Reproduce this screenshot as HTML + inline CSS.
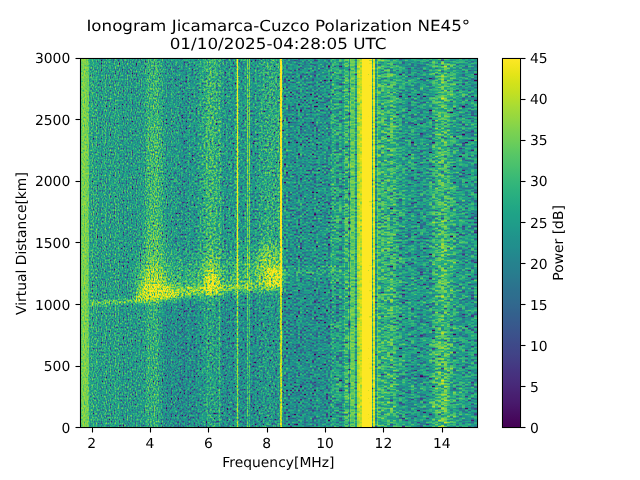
<!DOCTYPE html>
<html><head><meta charset="utf-8"><title>Ionogram</title>
<style>html,body{margin:0;padding:0;background:#fff;width:640px;height:480px;overflow:hidden}
svg{display:block} text{font-family:"DejaVu Sans","Liberation Sans",sans-serif;fill:#000;text-rendering:geometricPrecision}</style></head>
<body><svg width="640" height="480" viewBox="0 0 640 480">
<defs><filter id="f0" filterUnits="userSpaceOnUse" x="0" y="0" width="640" height="480" color-interpolation-filters="sRGB">
<feTurbulence type="fractalNoise" baseFrequency="0.77 0.52" numOctaves="1" seed="3" result="n"/>
<feColorMatrix in="n" type="matrix" values="1 0 0 0 0 1 0 0 0 0 1 0 0 0 0 0 0 0 0 1" result="ng0"/>
<feOffset in="ng0" dx="0" dy="0" result="ng"/>
<feComponentTransfer in="ng" result="ns"><feFuncR type="table" tableValues="0 0 0 0 0 0 0 0 0 0 0 0 0 0 0 0.069 0.146 0.224 0.292 0.351 0.398 0.44 0.476 0.506 0.534 0.559 0.583 0.605 0.627 0.65 0.672 0.692 0.709 0.729 0.746 0.763 0.779 0.792 0.805 0.816 0.828 0.839 0.851 0.863 0.875 0.889 0.903 0.918 0.931 0.944 0.956 0.97 0.983 0.999 1 1 1 1 1 1 1 1 1 1 1"/><feFuncG type="table" tableValues="0 0 0 0 0 0 0 0 0 0 0 0 0 0 0 0.069 0.146 0.224 0.292 0.351 0.398 0.44 0.476 0.506 0.534 0.559 0.583 0.605 0.627 0.65 0.672 0.692 0.709 0.729 0.746 0.763 0.779 0.792 0.805 0.816 0.828 0.839 0.851 0.863 0.875 0.889 0.903 0.918 0.931 0.944 0.956 0.97 0.983 0.999 1 1 1 1 1 1 1 1 1 1 1"/><feFuncB type="table" tableValues="0 0 0 0 0 0 0 0 0 0 0 0 0 0 0 0.069 0.146 0.224 0.292 0.351 0.398 0.44 0.476 0.506 0.534 0.559 0.583 0.605 0.627 0.65 0.672 0.692 0.709 0.729 0.746 0.763 0.779 0.792 0.805 0.816 0.828 0.839 0.851 0.863 0.875 0.889 0.903 0.918 0.931 0.944 0.956 0.97 0.983 0.999 1 1 1 1 1 1 1 1 1 1 1"/></feComponentTransfer>
<feColorMatrix in="SourceGraphic" type="matrix" values="0 1 0 0 0 0 1 0 0 0 0 1 0 0 0 0 0 0 0 1" result="amp"/>
<feComposite in="amp" in2="ns" operator="arithmetic" k1="1" k2="-0.75" k3="0" k4="0.75" result="np"/>
<feComposite in="SourceGraphic" in2="np" operator="arithmetic" k1="0" k2="1" k3="0.6667" k4="-0.5000" result="v"/>
<feColorMatrix in="v" type="matrix" values="1 0 0 0 0 1 0 0 0 0 1 0 0 0 0 0 0 0 0 1" result="vg"/>
<feComponentTransfer in="vg">
<feFuncR type="table" tableValues="0.267 0.274 0.28 0.283 0.283 0.281 0.277 0.272 0.264 0.254 0.245 0.234 0.222 0.212 0.201 0.191 0.181 0.173 0.164 0.155 0.148 0.139 0.131 0.125 0.121 0.12 0.123 0.135 0.154 0.176 0.208 0.246 0.289 0.328 0.378 0.431 0.478 0.536 0.596 0.647 0.71 0.773 0.825 0.886 0.946 0.993 0.993 0.993 0.993 0.993 0.993 0.993 0.993 0.993 0.993 0.993 0.993 0.993 0.993 0.993 0.993"/>
<feFuncG type="table" tableValues="0.005 0.031 0.068 0.1 0.126 0.156 0.185 0.209 0.238 0.265 0.288 0.314 0.339 0.36 0.384 0.407 0.43 0.449 0.471 0.493 0.512 0.534 0.556 0.574 0.596 0.618 0.637 0.659 0.68 0.698 0.719 0.739 0.758 0.774 0.792 0.808 0.821 0.836 0.849 0.858 0.869 0.878 0.885 0.892 0.9 0.906 0.906 0.906 0.906 0.906 0.906 0.906 0.906 0.906 0.906 0.906 0.906 0.906 0.906 0.906 0.906"/>
<feFuncB type="table" tableValues="0.329 0.359 0.392 0.422 0.445 0.469 0.49 0.504 0.519 0.53 0.537 0.544 0.549 0.552 0.554 0.556 0.557 0.558 0.558 0.558 0.557 0.555 0.552 0.549 0.544 0.536 0.529 0.518 0.504 0.491 0.473 0.452 0.428 0.407 0.378 0.346 0.318 0.282 0.243 0.21 0.169 0.131 0.106 0.095 0.113 0.144 0.144 0.144 0.144 0.144 0.144 0.144 0.144 0.144 0.144 0.144 0.144 0.144 0.144 0.144 0.144"/>
</feComponentTransfer>
</filter><filter id="f1" filterUnits="userSpaceOnUse" x="0" y="0" width="640" height="480" color-interpolation-filters="sRGB">
<feTurbulence type="fractalNoise" baseFrequency="0.49 0.47" numOctaves="2" seed="4" result="n"/>
<feColorMatrix in="n" type="matrix" values="1 0 0 0 0 1 0 0 0 0 1 0 0 0 0 0 0 0 0 1" result="ng0"/>
<feOffset in="ng0" dx="0" dy="0" result="ng"/>
<feComponentTransfer in="ng" result="ns"><feFuncR type="table" tableValues="0 0 0 0 0 0 0 0 0 0 0 0 0.057 0.123 0.183 0.241 0.292 0.336 0.376 0.413 0.444 0.474 0.502 0.527 0.551 0.572 0.593 0.614 0.633 0.653 0.672 0.69 0.707 0.727 0.743 0.758 0.773 0.786 0.799 0.81 0.821 0.832 0.843 0.854 0.865 0.875 0.886 0.897 0.909 0.919 0.93 0.94 0.951 0.96 0.97 0.979 0.99 1 1 1 1 1 1 1 1"/><feFuncG type="table" tableValues="0 0 0 0 0 0 0 0 0 0 0 0 0.057 0.123 0.183 0.241 0.292 0.336 0.376 0.413 0.444 0.474 0.502 0.527 0.551 0.572 0.593 0.614 0.633 0.653 0.672 0.69 0.707 0.727 0.743 0.758 0.773 0.786 0.799 0.81 0.821 0.832 0.843 0.854 0.865 0.875 0.886 0.897 0.909 0.919 0.93 0.94 0.951 0.96 0.97 0.979 0.99 1 1 1 1 1 1 1 1"/><feFuncB type="table" tableValues="0 0 0 0 0 0 0 0 0 0 0 0 0.057 0.123 0.183 0.241 0.292 0.336 0.376 0.413 0.444 0.474 0.502 0.527 0.551 0.572 0.593 0.614 0.633 0.653 0.672 0.69 0.707 0.727 0.743 0.758 0.773 0.786 0.799 0.81 0.821 0.832 0.843 0.854 0.865 0.875 0.886 0.897 0.909 0.919 0.93 0.94 0.951 0.96 0.97 0.979 0.99 1 1 1 1 1 1 1 1"/></feComponentTransfer>
<feColorMatrix in="SourceGraphic" type="matrix" values="0 1 0 0 0 0 1 0 0 0 0 1 0 0 0 0 0 0 0 1" result="amp"/>
<feComposite in="amp" in2="ns" operator="arithmetic" k1="1" k2="-0.75" k3="0" k4="0.75" result="np"/>
<feComposite in="SourceGraphic" in2="np" operator="arithmetic" k1="0" k2="1" k3="0.6667" k4="-0.5000" result="v"/>
<feColorMatrix in="v" type="matrix" values="1 0 0 0 0 1 0 0 0 0 1 0 0 0 0 0 0 0 0 1" result="vg"/>
<feComponentTransfer in="vg">
<feFuncR type="table" tableValues="0.267 0.274 0.28 0.283 0.283 0.281 0.277 0.272 0.264 0.254 0.245 0.234 0.222 0.212 0.201 0.191 0.181 0.173 0.164 0.155 0.148 0.139 0.131 0.125 0.121 0.12 0.123 0.135 0.154 0.176 0.208 0.246 0.289 0.328 0.378 0.431 0.478 0.536 0.596 0.647 0.71 0.773 0.825 0.886 0.946 0.993 0.993 0.993 0.993 0.993 0.993 0.993 0.993 0.993 0.993 0.993 0.993 0.993 0.993 0.993 0.993"/>
<feFuncG type="table" tableValues="0.005 0.031 0.068 0.1 0.126 0.156 0.185 0.209 0.238 0.265 0.288 0.314 0.339 0.36 0.384 0.407 0.43 0.449 0.471 0.493 0.512 0.534 0.556 0.574 0.596 0.618 0.637 0.659 0.68 0.698 0.719 0.739 0.758 0.774 0.792 0.808 0.821 0.836 0.849 0.858 0.869 0.878 0.885 0.892 0.9 0.906 0.906 0.906 0.906 0.906 0.906 0.906 0.906 0.906 0.906 0.906 0.906 0.906 0.906 0.906 0.906"/>
<feFuncB type="table" tableValues="0.329 0.359 0.392 0.422 0.445 0.469 0.49 0.504 0.519 0.53 0.537 0.544 0.549 0.552 0.554 0.556 0.557 0.558 0.558 0.558 0.557 0.555 0.552 0.549 0.544 0.536 0.529 0.518 0.504 0.491 0.473 0.452 0.428 0.407 0.378 0.346 0.318 0.282 0.243 0.21 0.169 0.131 0.106 0.095 0.113 0.144 0.144 0.144 0.144 0.144 0.144 0.144 0.144 0.144 0.144 0.144 0.144 0.144 0.144 0.144 0.144"/>
</feComponentTransfer>
</filter><filter id="f2" filterUnits="userSpaceOnUse" x="0" y="0" width="640" height="480" color-interpolation-filters="sRGB">
<feTurbulence type="fractalNoise" baseFrequency="0.57 0.5" numOctaves="1" seed="5" result="n"/>
<feColorMatrix in="n" type="matrix" values="1 0 0 0 0 1 0 0 0 0 1 0 0 0 0 0 0 0 0 1" result="ng0"/>
<feFlood x="0" y="0" width="1" height="1" flood-color="#000" result="px"/>
<feComposite in="px" in2="px" operator="over" x="0" y="0" width="2" height="1" result="cellt"/>
<feTile in="cellt" x="0" y="0" width="640" height="480" result="grid"/>
<feComposite in="ng0" in2="grid" operator="in" result="samp"/>
<feOffset in="samp" dx="1" dy="0" result="samp1"/>
<feMerge result="ng"><feMergeNode in="samp"/><feMergeNode in="samp1"/></feMerge>
<feComponentTransfer in="ng" result="ns"><feFuncR type="table" tableValues="0 0 0 0 0 0 0 0 0 0 0 0 0 0.01 0.075 0.131 0.193 0.27 0.335 0.39 0.429 0.461 0.49 0.516 0.538 0.559 0.579 0.598 0.617 0.639 0.662 0.685 0.707 0.735 0.754 0.771 0.784 0.796 0.806 0.816 0.825 0.834 0.844 0.855 0.867 0.881 0.897 0.914 0.931 0.942 0.952 0.963 0.977 0.995 1 1 1 1 1 1 1 1 1 1 1"/><feFuncG type="table" tableValues="0 0 0 0 0 0 0 0 0 0 0 0 0 0.01 0.075 0.131 0.193 0.27 0.335 0.39 0.429 0.461 0.49 0.516 0.538 0.559 0.579 0.598 0.617 0.639 0.662 0.685 0.707 0.735 0.754 0.771 0.784 0.796 0.806 0.816 0.825 0.834 0.844 0.855 0.867 0.881 0.897 0.914 0.931 0.942 0.952 0.963 0.977 0.995 1 1 1 1 1 1 1 1 1 1 1"/><feFuncB type="table" tableValues="0 0 0 0 0 0 0 0 0 0 0 0 0 0.01 0.075 0.131 0.193 0.27 0.335 0.39 0.429 0.461 0.49 0.516 0.538 0.559 0.579 0.598 0.617 0.639 0.662 0.685 0.707 0.735 0.754 0.771 0.784 0.796 0.806 0.816 0.825 0.834 0.844 0.855 0.867 0.881 0.897 0.914 0.931 0.942 0.952 0.963 0.977 0.995 1 1 1 1 1 1 1 1 1 1 1"/></feComponentTransfer>
<feColorMatrix in="SourceGraphic" type="matrix" values="0 1 0 0 0 0 1 0 0 0 0 1 0 0 0 0 0 0 0 1" result="amp"/>
<feComposite in="amp" in2="ns" operator="arithmetic" k1="1" k2="-0.75" k3="0" k4="0.75" result="np"/>
<feComposite in="SourceGraphic" in2="np" operator="arithmetic" k1="0" k2="1" k3="0.6667" k4="-0.5000" result="v"/>
<feColorMatrix in="v" type="matrix" values="1 0 0 0 0 1 0 0 0 0 1 0 0 0 0 0 0 0 0 1" result="vg"/>
<feComponentTransfer in="vg">
<feFuncR type="table" tableValues="0.267 0.274 0.28 0.283 0.283 0.281 0.277 0.272 0.264 0.254 0.245 0.234 0.222 0.212 0.201 0.191 0.181 0.173 0.164 0.155 0.148 0.139 0.131 0.125 0.121 0.12 0.123 0.135 0.154 0.176 0.208 0.246 0.289 0.328 0.378 0.431 0.478 0.536 0.596 0.647 0.71 0.773 0.825 0.886 0.946 0.993 0.993 0.993 0.993 0.993 0.993 0.993 0.993 0.993 0.993 0.993 0.993 0.993 0.993 0.993 0.993"/>
<feFuncG type="table" tableValues="0.005 0.031 0.068 0.1 0.126 0.156 0.185 0.209 0.238 0.265 0.288 0.314 0.339 0.36 0.384 0.407 0.43 0.449 0.471 0.493 0.512 0.534 0.556 0.574 0.596 0.618 0.637 0.659 0.68 0.698 0.719 0.739 0.758 0.774 0.792 0.808 0.821 0.836 0.849 0.858 0.869 0.878 0.885 0.892 0.9 0.906 0.906 0.906 0.906 0.906 0.906 0.906 0.906 0.906 0.906 0.906 0.906 0.906 0.906 0.906 0.906"/>
<feFuncB type="table" tableValues="0.329 0.359 0.392 0.422 0.445 0.469 0.49 0.504 0.519 0.53 0.537 0.544 0.549 0.552 0.554 0.556 0.557 0.558 0.558 0.558 0.557 0.555 0.552 0.549 0.544 0.536 0.529 0.518 0.504 0.491 0.473 0.452 0.428 0.407 0.378 0.346 0.318 0.282 0.243 0.21 0.169 0.131 0.106 0.095 0.113 0.144 0.144 0.144 0.144 0.144 0.144 0.144 0.144 0.144 0.144 0.144 0.144 0.144 0.144 0.144 0.144"/>
</feComponentTransfer>
</filter><filter id="f3" filterUnits="userSpaceOnUse" x="0" y="0" width="640" height="480" color-interpolation-filters="sRGB">
<feTurbulence type="fractalNoise" baseFrequency="0.57 0.5" numOctaves="1" seed="6" result="n"/>
<feColorMatrix in="n" type="matrix" values="1 0 0 0 0 1 0 0 0 0 1 0 0 0 0 0 0 0 0 1" result="ng0"/>
<feFlood x="1" y="0" width="1" height="1" flood-color="#000" result="px"/>
<feComposite in="px" in2="px" operator="over" x="0" y="0" width="3" height="1" result="cellt"/>
<feTile in="cellt" x="0" y="0" width="640" height="480" result="grid"/>
<feComposite in="ng0" in2="grid" operator="in" result="samp"/>
<feMorphology in="samp" operator="dilate" radius="1 0" result="ng"/>
<feComponentTransfer in="ng" result="ns"><feFuncR type="table" tableValues="0 0 0 0 0 0 0 0 0 0 0 0 0 0 0.059 0.114 0.18 0.259 0.332 0.381 0.421 0.455 0.483 0.508 0.531 0.554 0.575 0.594 0.614 0.635 0.658 0.683 0.707 0.735 0.755 0.772 0.785 0.798 0.809 0.819 0.829 0.839 0.85 0.862 0.873 0.885 0.899 0.913 0.929 0.941 0.951 0.961 0.971 0.982 0.999 1 1 1 1 1 1 1 1 1 1"/><feFuncG type="table" tableValues="0 0 0 0 0 0 0 0 0 0 0 0 0 0 0.059 0.114 0.18 0.259 0.332 0.381 0.421 0.455 0.483 0.508 0.531 0.554 0.575 0.594 0.614 0.635 0.658 0.683 0.707 0.735 0.755 0.772 0.785 0.798 0.809 0.819 0.829 0.839 0.85 0.862 0.873 0.885 0.899 0.913 0.929 0.941 0.951 0.961 0.971 0.982 0.999 1 1 1 1 1 1 1 1 1 1"/><feFuncB type="table" tableValues="0 0 0 0 0 0 0 0 0 0 0 0 0 0 0.059 0.114 0.18 0.259 0.332 0.381 0.421 0.455 0.483 0.508 0.531 0.554 0.575 0.594 0.614 0.635 0.658 0.683 0.707 0.735 0.755 0.772 0.785 0.798 0.809 0.819 0.829 0.839 0.85 0.862 0.873 0.885 0.899 0.913 0.929 0.941 0.951 0.961 0.971 0.982 0.999 1 1 1 1 1 1 1 1 1 1"/></feComponentTransfer>
<feColorMatrix in="SourceGraphic" type="matrix" values="0 1 0 0 0 0 1 0 0 0 0 1 0 0 0 0 0 0 0 1" result="amp"/>
<feComposite in="amp" in2="ns" operator="arithmetic" k1="1" k2="-0.75" k3="0" k4="0.75" result="np"/>
<feComposite in="SourceGraphic" in2="np" operator="arithmetic" k1="0" k2="1" k3="0.6667" k4="-0.5000" result="v"/>
<feColorMatrix in="v" type="matrix" values="1 0 0 0 0 1 0 0 0 0 1 0 0 0 0 0 0 0 0 1" result="vg"/>
<feComponentTransfer in="vg">
<feFuncR type="table" tableValues="0.267 0.274 0.28 0.283 0.283 0.281 0.277 0.272 0.264 0.254 0.245 0.234 0.222 0.212 0.201 0.191 0.181 0.173 0.164 0.155 0.148 0.139 0.131 0.125 0.121 0.12 0.123 0.135 0.154 0.176 0.208 0.246 0.289 0.328 0.378 0.431 0.478 0.536 0.596 0.647 0.71 0.773 0.825 0.886 0.946 0.993 0.993 0.993 0.993 0.993 0.993 0.993 0.993 0.993 0.993 0.993 0.993 0.993 0.993 0.993 0.993"/>
<feFuncG type="table" tableValues="0.005 0.031 0.068 0.1 0.126 0.156 0.185 0.209 0.238 0.265 0.288 0.314 0.339 0.36 0.384 0.407 0.43 0.449 0.471 0.493 0.512 0.534 0.556 0.574 0.596 0.618 0.637 0.659 0.68 0.698 0.719 0.739 0.758 0.774 0.792 0.808 0.821 0.836 0.849 0.858 0.869 0.878 0.885 0.892 0.9 0.906 0.906 0.906 0.906 0.906 0.906 0.906 0.906 0.906 0.906 0.906 0.906 0.906 0.906 0.906 0.906"/>
<feFuncB type="table" tableValues="0.329 0.359 0.392 0.422 0.445 0.469 0.49 0.504 0.519 0.53 0.537 0.544 0.549 0.552 0.554 0.556 0.557 0.558 0.558 0.558 0.557 0.555 0.552 0.549 0.544 0.536 0.529 0.518 0.504 0.491 0.473 0.452 0.428 0.407 0.378 0.346 0.318 0.282 0.243 0.21 0.169 0.131 0.106 0.095 0.113 0.144 0.144 0.144 0.144 0.144 0.144 0.144 0.144 0.144 0.144 0.144 0.144 0.144 0.144 0.144 0.144"/>
</feComponentTransfer>
</filter><linearGradient id="cb" x1="0" y1="1" x2="0" y2="0"><stop offset="0.0000" stop-color="#440154"/><stop offset="0.0222" stop-color="#46085c"/><stop offset="0.0444" stop-color="#471164"/><stop offset="0.0667" stop-color="#481a6c"/><stop offset="0.0889" stop-color="#482071"/><stop offset="0.1111" stop-color="#482878"/><stop offset="0.1333" stop-color="#472f7d"/><stop offset="0.1556" stop-color="#453581"/><stop offset="0.1778" stop-color="#433d84"/><stop offset="0.2000" stop-color="#414487"/><stop offset="0.2222" stop-color="#3e4989"/><stop offset="0.2444" stop-color="#3c508b"/><stop offset="0.2667" stop-color="#39568c"/><stop offset="0.2889" stop-color="#365c8d"/><stop offset="0.3111" stop-color="#33628d"/><stop offset="0.3333" stop-color="#31688e"/><stop offset="0.3556" stop-color="#2e6e8e"/><stop offset="0.3778" stop-color="#2c728e"/><stop offset="0.4000" stop-color="#2a788e"/><stop offset="0.4222" stop-color="#277e8e"/><stop offset="0.4444" stop-color="#26828e"/><stop offset="0.4667" stop-color="#23888e"/><stop offset="0.4889" stop-color="#218e8d"/><stop offset="0.5111" stop-color="#20928c"/><stop offset="0.5333" stop-color="#1f988b"/><stop offset="0.5556" stop-color="#1f9e89"/><stop offset="0.5778" stop-color="#1fa287"/><stop offset="0.6000" stop-color="#22a884"/><stop offset="0.6222" stop-color="#27ad81"/><stop offset="0.6444" stop-color="#2db27d"/><stop offset="0.6667" stop-color="#35b779"/><stop offset="0.6889" stop-color="#3fbc73"/><stop offset="0.7111" stop-color="#4ac16d"/><stop offset="0.7333" stop-color="#54c568"/><stop offset="0.7556" stop-color="#60ca60"/><stop offset="0.7778" stop-color="#6ece58"/><stop offset="0.8000" stop-color="#7ad151"/><stop offset="0.8222" stop-color="#89d548"/><stop offset="0.8444" stop-color="#98d83e"/><stop offset="0.8667" stop-color="#a5db36"/><stop offset="0.8889" stop-color="#b5de2b"/><stop offset="0.9111" stop-color="#c5e021"/><stop offset="0.9333" stop-color="#d2e21b"/><stop offset="0.9556" stop-color="#e2e418"/><stop offset="0.9778" stop-color="#f1e51d"/><stop offset="1.0000" stop-color="#fde725"/></linearGradient>
<linearGradient id="gfade" x1="0" y1="1" x2="0" y2="0"><stop offset="0" stop-color="#c8ff00" stop-opacity="0.36"/><stop offset="0.4" stop-color="#c8ff00" stop-opacity="0.24"/><stop offset="1" stop-color="#c8ff00" stop-opacity="0"/></linearGradient>
<filter id="bl2" filterUnits="userSpaceOnUse" x="0" y="0" width="640" height="480" color-interpolation-filters="sRGB"><feGaussianBlur stdDeviation="2"/></filter>
<filter id="bl1" filterUnits="userSpaceOnUse" x="0" y="0" width="640" height="480" color-interpolation-filters="sRGB"><feGaussianBlur stdDeviation="1 0.8"/></filter>
<filter id="bl4" filterUnits="userSpaceOnUse" x="0" y="0" width="640" height="480" color-interpolation-filters="sRGB"><feGaussianBlur stdDeviation="3 5"/></filter>
<clipPath id="cp0"><rect x="81" y="59" width="94" height="368"/></clipPath><clipPath id="cp1"><rect x="175" y="59" width="108" height="368"/></clipPath><clipPath id="cp2"><rect x="283" y="59" width="53" height="368"/></clipPath><clipPath id="cp3"><rect x="336" y="59" width="141" height="368"/></clipPath>
<g id="src" shape-rendering="crispEdges">
<rect x="0" y="0" width="640" height="480" fill="#73ff00"/>
<rect x="81" y="58" width="1" height="370" fill="#935900"/>
<rect x="82" y="58" width="1" height="370" fill="#9d5900"/>
<rect x="83" y="58" width="1" height="370" fill="#9e5900"/>
<rect x="84" y="58" width="1" height="370" fill="#9c5900"/>
<rect x="85" y="58" width="1" height="370" fill="#9f5900"/>
<rect x="86" y="58" width="1" height="370" fill="#995900"/>
<rect x="87" y="58" width="1" height="370" fill="#9b5900"/>
<rect x="88" y="58" width="1" height="370" fill="#965900"/>
<rect x="89" y="58" width="1" height="370" fill="#76ac00"/>
<rect x="90" y="58" width="1" height="370" fill="#74ff00"/>
<rect x="91" y="58" width="1" height="370" fill="#81ff00"/>
<rect x="92" y="58" width="1" height="370" fill="#7bff00"/>
<rect x="93" y="58" width="1" height="370" fill="#7aff00"/>
<rect x="94" y="58" width="1" height="370" fill="#74ff00"/>
<rect x="95" y="58" width="1" height="370" fill="#7aff00"/>
<rect x="96" y="58" width="1" height="370" fill="#7fff00"/>
<rect x="97" y="58" width="1" height="370" fill="#72ff00"/>
<rect x="98" y="58" width="1" height="370" fill="#77ff00"/>
<rect x="99" y="58" width="1" height="370" fill="#6eff00"/>
<rect x="100" y="58" width="1" height="370" fill="#71ff00"/>
<rect x="101" y="58" width="1" height="370" fill="#6eff00"/>
<rect x="102" y="58" width="1" height="370" fill="#78ff00"/>
<rect x="103" y="58" width="1" height="370" fill="#71ff00"/>
<rect x="104" y="58" width="1" height="370" fill="#7bff00"/>
<rect x="105" y="58" width="1" height="370" fill="#7aff00"/>
<rect x="106" y="58" width="1" height="370" fill="#78ff00"/>
<rect x="107" y="58" width="1" height="370" fill="#69ff00"/>
<rect x="108" y="58" width="1" height="370" fill="#75ff00"/>
<rect x="109" y="58" width="1" height="370" fill="#78ff00"/>
<rect x="110" y="58" width="1" height="370" fill="#79ff00"/>
<rect x="111" y="58" width="1" height="370" fill="#6fff00"/>
<rect x="112" y="58" width="1" height="370" fill="#75ff00"/>
<rect x="113" y="58" width="1" height="370" fill="#72ff00"/>
<rect x="114" y="58" width="1" height="370" fill="#73ff00"/>
<rect x="115" y="58" width="1" height="370" fill="#7fff00"/>
<rect x="116" y="58" width="1" height="370" fill="#72ff00"/>
<rect x="117" y="58" width="1" height="370" fill="#77ff00"/>
<rect x="118" y="58" width="1" height="370" fill="#7cff00"/>
<rect x="119" y="58" width="1" height="370" fill="#71ff00"/>
<rect x="120" y="58" width="2" height="370" fill="#72ff00"/>
<rect x="122" y="58" width="1" height="370" fill="#71ff00"/>
<rect x="123" y="58" width="1" height="370" fill="#69ff00"/>
<rect x="124" y="58" width="1" height="370" fill="#71ff00"/>
<rect x="125" y="58" width="1" height="370" fill="#79ff00"/>
<rect x="126" y="58" width="1" height="370" fill="#67ff00"/>
<rect x="127" y="58" width="1" height="370" fill="#76ff00"/>
<rect x="128" y="58" width="1" height="370" fill="#71ff00"/>
<rect x="129" y="58" width="1" height="370" fill="#6cff00"/>
<rect x="130" y="58" width="1" height="370" fill="#79ff00"/>
<rect x="131" y="58" width="1" height="370" fill="#73ff00"/>
<rect x="132" y="58" width="1" height="370" fill="#6bff00"/>
<rect x="133" y="58" width="1" height="370" fill="#70ff00"/>
<rect x="134" y="58" width="1" height="370" fill="#72ff00"/>
<rect x="135" y="58" width="1" height="370" fill="#6fff00"/>
<rect x="136" y="58" width="1" height="370" fill="#73ff00"/>
<rect x="137" y="58" width="1" height="370" fill="#70ff00"/>
<rect x="138" y="58" width="1" height="370" fill="#73ff00"/>
<rect x="139" y="58" width="1" height="370" fill="#76ff00"/>
<rect x="140" y="58" width="1" height="370" fill="#6eff00"/>
<rect x="141" y="58" width="1" height="370" fill="#73ff00"/>
<rect x="142" y="58" width="1" height="370" fill="#71ff00"/>
<rect x="143" y="58" width="1" height="370" fill="#76ff00"/>
<rect x="144" y="58" width="1" height="370" fill="#72ff00"/>
<rect x="145" y="58" width="1" height="370" fill="#77ff00"/>
<rect x="146" y="58" width="1" height="370" fill="#7bff00"/>
<rect x="147" y="58" width="1" height="370" fill="#81ff00"/>
<rect x="148" y="58" width="1" height="370" fill="#85ff00"/>
<rect x="149" y="58" width="1" height="370" fill="#7cff00"/>
<rect x="150" y="58" width="1" height="370" fill="#7fff00"/>
<rect x="151" y="58" width="1" height="370" fill="#86ff00"/>
<rect x="152" y="58" width="1" height="370" fill="#7bff00"/>
<rect x="153" y="58" width="1" height="370" fill="#81ff00"/>
<rect x="154" y="58" width="2" height="370" fill="#82ff00"/>
<rect x="156" y="58" width="1" height="370" fill="#87ff00"/>
<rect x="157" y="58" width="1" height="370" fill="#83ff00"/>
<rect x="158" y="58" width="1" height="370" fill="#7dff00"/>
<rect x="159" y="58" width="1" height="370" fill="#7bff00"/>
<rect x="160" y="58" width="1" height="370" fill="#79ff00"/>
<rect x="161" y="58" width="1" height="370" fill="#7eff00"/>
<rect x="162" y="58" width="1" height="370" fill="#73ff00"/>
<rect x="163" y="58" width="1" height="370" fill="#72ff00"/>
<rect x="164" y="58" width="1" height="370" fill="#73ff00"/>
<rect x="165" y="58" width="1" height="370" fill="#6fff00"/>
<rect x="166" y="58" width="1" height="370" fill="#6eff00"/>
<rect x="167" y="58" width="1" height="370" fill="#6aff00"/>
<rect x="168" y="58" width="1" height="370" fill="#6fff00"/>
<rect x="169" y="58" width="2" height="370" fill="#6dff00"/>
<rect x="171" y="58" width="1" height="370" fill="#74ff00"/>
<rect x="172" y="58" width="1" height="370" fill="#72ff00"/>
<rect x="173" y="58" width="1" height="370" fill="#6fff00"/>
<rect x="174" y="58" width="1" height="370" fill="#72ff00"/>
<rect x="175" y="58" width="1" height="370" fill="#6dff00"/>
<rect x="176" y="58" width="1" height="370" fill="#73ff00"/>
<rect x="177" y="58" width="2" height="370" fill="#6fff00"/>
<rect x="179" y="58" width="1" height="370" fill="#71ff00"/>
<rect x="180" y="58" width="1" height="370" fill="#69ff00"/>
<rect x="181" y="58" width="1" height="370" fill="#70ff00"/>
<rect x="182" y="58" width="2" height="370" fill="#67ff00"/>
<rect x="184" y="58" width="1" height="370" fill="#66ff00"/>
<rect x="185" y="58" width="1" height="370" fill="#6dff00"/>
<rect x="186" y="58" width="1" height="370" fill="#6bff00"/>
<rect x="187" y="58" width="2" height="370" fill="#6fff00"/>
<rect x="189" y="58" width="1" height="370" fill="#78ff00"/>
<rect x="190" y="58" width="1" height="370" fill="#6bff00"/>
<rect x="191" y="58" width="2" height="370" fill="#6cff00"/>
<rect x="193" y="58" width="1" height="370" fill="#6fff00"/>
<rect x="194" y="58" width="1" height="370" fill="#70ff00"/>
<rect x="195" y="58" width="1" height="370" fill="#6dff00"/>
<rect x="196" y="58" width="1" height="370" fill="#6eff00"/>
<rect x="197" y="58" width="1" height="370" fill="#70ff00"/>
<rect x="198" y="58" width="1" height="370" fill="#76ff00"/>
<rect x="199" y="58" width="1" height="370" fill="#77ff00"/>
<rect x="200" y="58" width="1" height="370" fill="#79ff00"/>
<rect x="201" y="58" width="1" height="370" fill="#74ff00"/>
<rect x="202" y="58" width="1" height="370" fill="#7aff00"/>
<rect x="203" y="58" width="1" height="370" fill="#7dff00"/>
<rect x="204" y="58" width="1" height="370" fill="#7eff00"/>
<rect x="205" y="58" width="1" height="370" fill="#7bff00"/>
<rect x="206" y="58" width="1" height="370" fill="#82ff00"/>
<rect x="207" y="58" width="1" height="370" fill="#87ff00"/>
<rect x="208" y="58" width="1" height="370" fill="#7fff00"/>
<rect x="209" y="58" width="1" height="370" fill="#87ff00"/>
<rect x="210" y="58" width="1" height="370" fill="#86ff00"/>
<rect x="211" y="58" width="1" height="370" fill="#83ff00"/>
<rect x="212" y="58" width="2" height="370" fill="#82ff00"/>
<rect x="214" y="58" width="1" height="370" fill="#7fff00"/>
<rect x="215" y="58" width="1" height="370" fill="#81ff00"/>
<rect x="216" y="58" width="1" height="370" fill="#80ff00"/>
<rect x="217" y="58" width="1" height="370" fill="#77ff00"/>
<rect x="218" y="58" width="1" height="370" fill="#7aff00"/>
<rect x="219" y="58" width="1" height="370" fill="#89ff00"/>
<rect x="220" y="58" width="1" height="370" fill="#7dff00"/>
<rect x="221" y="58" width="1" height="370" fill="#70ff00"/>
<rect x="222" y="58" width="1" height="370" fill="#6dff00"/>
<rect x="223" y="58" width="1" height="370" fill="#78ff00"/>
<rect x="224" y="58" width="1" height="370" fill="#6bff00"/>
<rect x="225" y="58" width="1" height="370" fill="#69ff00"/>
<rect x="226" y="58" width="1" height="370" fill="#73ff00"/>
<rect x="227" y="58" width="2" height="370" fill="#6cff00"/>
<rect x="229" y="58" width="2" height="370" fill="#73ff00"/>
<rect x="231" y="58" width="1" height="370" fill="#70ff00"/>
<rect x="232" y="58" width="2" height="370" fill="#69ff00"/>
<rect x="234" y="58" width="2" height="370" fill="#75ff00"/>
<rect x="236" y="58" width="1" height="370" fill="#89ff00"/>
<rect x="237" y="58" width="1" height="370" fill="#c15900"/>
<rect x="238" y="58" width="1" height="370" fill="#85ff00"/>
<rect x="239" y="58" width="2" height="370" fill="#6eff00"/>
<rect x="241" y="58" width="1" height="370" fill="#6fff00"/>
<rect x="242" y="58" width="2" height="370" fill="#6bff00"/>
<rect x="244" y="58" width="2" height="370" fill="#74ff00"/>
<rect x="246" y="58" width="1" height="370" fill="#6dff00"/>
<rect x="247" y="58" width="1" height="370" fill="#9f8000"/>
<rect x="248" y="58" width="1" height="370" fill="#78ff00"/>
<rect x="249" y="58" width="1" height="370" fill="#9c8000"/>
<rect x="250" y="58" width="1" height="370" fill="#6cff00"/>
<rect x="251" y="58" width="2" height="370" fill="#6dff00"/>
<rect x="253" y="58" width="2" height="370" fill="#6aff00"/>
<rect x="255" y="58" width="2" height="370" fill="#75ff00"/>
<rect x="257" y="58" width="1" height="370" fill="#6fff00"/>
<rect x="258" y="58" width="1" height="370" fill="#70ff00"/>
<rect x="259" y="58" width="1" height="370" fill="#78ff00"/>
<rect x="260" y="58" width="1" height="370" fill="#76ff00"/>
<rect x="261" y="58" width="1" height="370" fill="#79ff00"/>
<rect x="262" y="58" width="2" height="370" fill="#77ff00"/>
<rect x="264" y="58" width="2" height="370" fill="#79ff00"/>
<rect x="266" y="58" width="2" height="370" fill="#78ff00"/>
<rect x="268" y="58" width="2" height="370" fill="#7aff00"/>
<rect x="270" y="58" width="4" height="370" fill="#79ff00"/>
<rect x="274" y="58" width="2" height="370" fill="#75ff00"/>
<rect x="276" y="58" width="1" height="370" fill="#77ff00"/>
<rect x="277" y="58" width="1" height="370" fill="#75ff00"/>
<rect x="278" y="58" width="2" height="370" fill="#7dff00"/>
<rect x="280" y="58" width="1" height="370" fill="#c55900"/>
<rect x="281" y="58" width="1" height="370" fill="#c95900"/>
<rect x="282" y="58" width="1" height="370" fill="#78ff00"/>
<rect x="283" y="58" width="1" height="370" fill="#66ff00"/>
<rect x="284" y="58" width="2" height="370" fill="#6bff00"/>
<rect x="286" y="58" width="2" height="370" fill="#6eff00"/>
<rect x="288" y="58" width="2" height="370" fill="#67ff00"/>
<rect x="290" y="58" width="3" height="370" fill="#6aff00"/>
<rect x="293" y="58" width="2" height="370" fill="#69ff00"/>
<rect x="295" y="58" width="2" height="370" fill="#66ff00"/>
<rect x="297" y="58" width="2" height="370" fill="#6cff00"/>
<rect x="299" y="58" width="5" height="370" fill="#6aff00"/>
<rect x="304" y="58" width="2" height="370" fill="#68ff00"/>
<rect x="306" y="58" width="2" height="370" fill="#6bff00"/>
<rect x="308" y="58" width="2" height="370" fill="#69ff00"/>
<rect x="310" y="58" width="3" height="370" fill="#6aff00"/>
<rect x="313" y="58" width="4" height="370" fill="#67ff00"/>
<rect x="317" y="58" width="3" height="370" fill="#6eff00"/>
<rect x="320" y="58" width="2" height="370" fill="#69ff00"/>
<rect x="322" y="58" width="2" height="370" fill="#6bff00"/>
<rect x="324" y="58" width="3" height="370" fill="#6aff00"/>
<rect x="327" y="58" width="4" height="370" fill="#69ff00"/>
<rect x="331" y="58" width="1" height="370" fill="#7bff00"/>
<rect x="332" y="58" width="2" height="370" fill="#7eff00"/>
<rect x="334" y="58" width="2" height="370" fill="#7cff00"/>
<rect x="336" y="58" width="2" height="370" fill="#76ff00"/>
<rect x="338" y="58" width="1" height="370" fill="#77ff00"/>
<rect x="339" y="58" width="2" height="370" fill="#78ff00"/>
<rect x="341" y="58" width="1" height="370" fill="#6cff00"/>
<rect x="342" y="58" width="2" height="370" fill="#6fff00"/>
<rect x="344" y="58" width="3" height="370" fill="#87ff00"/>
<rect x="347" y="58" width="2" height="370" fill="#86ff00"/>
<rect x="349" y="58" width="1" height="370" fill="#5fff00"/>
<rect x="350" y="58" width="5" height="370" fill="#948000"/>
<rect x="355" y="58" width="2" height="370" fill="#72ff00"/>
<rect x="357" y="58" width="2" height="370" fill="#a94c00"/>
<rect x="359" y="58" width="2" height="370" fill="#b14c00"/>
<rect x="361" y="58" width="1" height="370" fill="#b24c00"/>
<rect x="362" y="58" width="6" height="370" fill="#f44c00"/>
<rect x="368" y="58" width="1" height="370" fill="#cf4c00"/>
<rect x="369" y="58" width="1" height="370" fill="#ce4c00"/>
<rect x="370" y="58" width="1" height="370" fill="#cd4c00"/>
<rect x="371" y="58" width="1" height="370" fill="#cc4c00"/>
<rect x="372" y="58" width="1" height="370" fill="#7fff00"/>
<rect x="373" y="58" width="2" height="370" fill="#b84c00"/>
<rect x="375" y="58" width="2" height="370" fill="#6cff00"/>
<rect x="377" y="58" width="1" height="370" fill="#968000"/>
<rect x="378" y="58" width="2" height="370" fill="#89ff00"/>
<rect x="380" y="58" width="2" height="370" fill="#81ff00"/>
<rect x="382" y="58" width="3" height="370" fill="#86ff00"/>
<rect x="385" y="58" width="3" height="370" fill="#84ff00"/>
<rect x="388" y="58" width="1" height="370" fill="#85ff00"/>
<rect x="389" y="58" width="2" height="370" fill="#84ff00"/>
<rect x="391" y="58" width="1" height="370" fill="#87ff00"/>
<rect x="392" y="58" width="1" height="370" fill="#86ff00"/>
<rect x="393" y="58" width="1" height="370" fill="#85ff00"/>
<rect x="394" y="58" width="1" height="370" fill="#83ff00"/>
<rect x="395" y="58" width="1" height="370" fill="#81ff00"/>
<rect x="396" y="58" width="1" height="370" fill="#80ff00"/>
<rect x="397" y="58" width="1" height="370" fill="#78ff00"/>
<rect x="398" y="58" width="1" height="370" fill="#77ff00"/>
<rect x="399" y="58" width="1" height="370" fill="#76ff00"/>
<rect x="400" y="58" width="1" height="370" fill="#74ff00"/>
<rect x="401" y="58" width="1" height="370" fill="#72ff00"/>
<rect x="402" y="58" width="1" height="370" fill="#71ff00"/>
<rect x="403" y="58" width="1" height="370" fill="#76ff00"/>
<rect x="404" y="58" width="1" height="370" fill="#75ff00"/>
<rect x="405" y="58" width="1" height="370" fill="#74ff00"/>
<rect x="406" y="58" width="1" height="370" fill="#6eff00"/>
<rect x="407" y="58" width="2" height="370" fill="#6dff00"/>
<rect x="409" y="58" width="4" height="370" fill="#70ff00"/>
<rect x="413" y="58" width="3" height="370" fill="#72ff00"/>
<rect x="416" y="58" width="3" height="370" fill="#6bff00"/>
<rect x="419" y="58" width="3" height="370" fill="#6aff00"/>
<rect x="422" y="58" width="3" height="370" fill="#70ff00"/>
<rect x="425" y="58" width="4" height="370" fill="#6fff00"/>
<rect x="429" y="58" width="1" height="370" fill="#70ff00"/>
<rect x="430" y="58" width="1" height="370" fill="#73ff00"/>
<rect x="431" y="58" width="1" height="370" fill="#76ff00"/>
<rect x="432" y="58" width="1" height="370" fill="#7aff00"/>
<rect x="433" y="58" width="1" height="370" fill="#7eff00"/>
<rect x="434" y="58" width="1" height="370" fill="#81ff00"/>
<rect x="435" y="58" width="1" height="370" fill="#82ff00"/>
<rect x="436" y="58" width="1" height="370" fill="#85ff00"/>
<rect x="437" y="58" width="2" height="370" fill="#87ff00"/>
<rect x="439" y="58" width="3" height="370" fill="#8aff00"/>
<rect x="442" y="58" width="1" height="370" fill="#8eff00"/>
<rect x="443" y="58" width="2" height="370" fill="#8dff00"/>
<rect x="445" y="58" width="1" height="370" fill="#8bff00"/>
<rect x="446" y="58" width="1" height="370" fill="#8aff00"/>
<rect x="447" y="58" width="1" height="370" fill="#88ff00"/>
<rect x="448" y="58" width="1" height="370" fill="#86ff00"/>
<rect x="449" y="58" width="1" height="370" fill="#82ff00"/>
<rect x="450" y="58" width="1" height="370" fill="#7fff00"/>
<rect x="451" y="58" width="1" height="370" fill="#7cff00"/>
<rect x="452" y="58" width="1" height="370" fill="#7fff00"/>
<rect x="453" y="58" width="1" height="370" fill="#7cff00"/>
<rect x="454" y="58" width="1" height="370" fill="#7aff00"/>
<rect x="455" y="58" width="1" height="370" fill="#78ff00"/>
<rect x="456" y="58" width="1" height="370" fill="#74ff00"/>
<rect x="457" y="58" width="1" height="370" fill="#73ff00"/>
<rect x="458" y="58" width="1" height="370" fill="#72ff00"/>
<rect x="459" y="58" width="4" height="370" fill="#73ff00"/>
<rect x="463" y="58" width="3" height="370" fill="#6fff00"/>
<rect x="466" y="58" width="4" height="370" fill="#70ff00"/>
<rect x="470" y="58" width="7" height="370" fill="#6fff00"/>
<rect x="219" y="297" width="1" height="131" fill="#9a9900"/>
<rect x="207" y="300" width="1" height="128" fill="#90cc00"/>
<g filter="url(#bl4)"><ellipse cx="153" cy="281" rx="13" ry="17" fill="#c8ff00" fill-opacity="0.3"/><ellipse cx="211" cy="275" rx="6" ry="17" fill="#c8ff00" fill-opacity="0.4"/><ellipse cx="268" cy="266" rx="13" ry="22" fill="#c8ff00" fill-opacity="0.34"/><g transform="translate(134,300) skewY(-4.6)"><rect x="0" y="-50" width="149" height="50" fill="url(#gfade)"/></g><polygon points="146,292 161,292 161,130 158,59 149,59 147,130" fill="#c8ff00" fill-opacity="0.07"/><polygon points="141,292 170,292 166,125 148,125" fill="#c8ff00" fill-opacity="0.08"/><polygon points="139,292 174,292 163,225 146,225" fill="#c8ff00" fill-opacity="0.1"/><polygon points="204,288 220,288 218,59 206,59" fill="#c8ff00" fill-opacity="0.06"/><polygon points="262,282 282,282 280,59 265,59" fill="#c8ff00" fill-opacity="0.07"/><ellipse cx="441" cy="385" rx="7" ry="70" fill="#c8ff00" fill-opacity="0.13"/><polygon points="160,304 283,292 283,430 160,430" fill="#48ff00" fill-opacity="0.2"/><polygon points="283,292 340,284 340,430 283,430" fill="#48ff00" fill-opacity="0.1"/></g>
<g filter="url(#bl2)"><polygon points="136,302.5 170,300 179,293 168,286 158,282 147,283.5 138,292" fill="#c8ff00" fill-opacity="0.62"/><polygon points="166,300.5 204,294.5 204,286 166,287" fill="#c8ff00" fill-opacity="0.46"/><polygon points="204.5,296 220,294 218,275 206.5,275" fill="#c8ff00" fill-opacity="0.68"/><polygon points="219,294 264,289.5 264,282 219,285" fill="#c8ff00" fill-opacity="0.32"/><polygon points="266,289 281,288 281,267 267,268" fill="#c8ff00" fill-opacity="0.72"/></g>
<g filter="url(#bl1)"><polygon points="90,306 140,302.5 140,298 90,301.5" fill="#c8ff00" fill-opacity="0.42"/></g>
<g filter="url(#bl2)"><polygon points="280,281 342,273 342,263 280,270" fill="#c8ff00" fill-opacity="0.15"/></g>
</g>

</defs>
<rect width="640" height="480" fill="#fff"/>
<g clip-path="url(#cp0)"><use href="#src" filter="url(#f0)"/></g>
<g clip-path="url(#cp1)"><use href="#src" filter="url(#f1)"/></g>
<g clip-path="url(#cp2)"><use href="#src" filter="url(#f2)"/></g>
<g clip-path="url(#cp3)"><use href="#src" filter="url(#f3)"/></g>
<g shape-rendering="crispEdges">
<rect x="79" y="58" width="1" height="370" fill="#f1f1f1"/>
<rect x="478" y="58" width="1" height="371" fill="#f1f1f1"/>
<rect x="80" y="57" width="398" height="1" fill="#f1f1f1"/>
<rect x="80" y="428" width="399" height="1" fill="#f1f1f1"/>
<rect x="80" y="58" width="1" height="370" fill="#000"/>
<rect x="477" y="58" width="1" height="370" fill="#000"/>
<rect x="80" y="58" width="398" height="1" fill="#000"/>
<rect x="80" y="427" width="398" height="1" fill="#000"/>
<rect x="91" y="428" width="1" height="4" fill="#f1f1f1"/>
<rect x="93" y="428" width="1" height="4" fill="#f1f1f1"/>
<rect x="92" y="427" width="1" height="5" fill="#000"/>
<rect x="92" y="432" width="1" height="1" fill="#7f7f7f"/>
<rect x="149" y="428" width="1" height="4" fill="#f1f1f1"/>
<rect x="151" y="428" width="1" height="4" fill="#f1f1f1"/>
<rect x="150" y="427" width="1" height="5" fill="#000"/>
<rect x="150" y="432" width="1" height="1" fill="#7f7f7f"/>
<rect x="207" y="428" width="1" height="4" fill="#f1f1f1"/>
<rect x="209" y="428" width="1" height="4" fill="#f1f1f1"/>
<rect x="208" y="427" width="1" height="5" fill="#000"/>
<rect x="208" y="432" width="1" height="1" fill="#7f7f7f"/>
<rect x="266" y="428" width="1" height="4" fill="#f1f1f1"/>
<rect x="268" y="428" width="1" height="4" fill="#f1f1f1"/>
<rect x="267" y="427" width="1" height="5" fill="#000"/>
<rect x="267" y="432" width="1" height="1" fill="#7f7f7f"/>
<rect x="324" y="428" width="1" height="4" fill="#f1f1f1"/>
<rect x="326" y="428" width="1" height="4" fill="#f1f1f1"/>
<rect x="325" y="427" width="1" height="5" fill="#000"/>
<rect x="325" y="432" width="1" height="1" fill="#7f7f7f"/>
<rect x="382" y="428" width="1" height="4" fill="#f1f1f1"/>
<rect x="384" y="428" width="1" height="4" fill="#f1f1f1"/>
<rect x="383" y="427" width="1" height="5" fill="#000"/>
<rect x="383" y="432" width="1" height="1" fill="#7f7f7f"/>
<rect x="441" y="428" width="1" height="4" fill="#f1f1f1"/>
<rect x="443" y="428" width="1" height="4" fill="#f1f1f1"/>
<rect x="442" y="427" width="1" height="5" fill="#000"/>
<rect x="442" y="432" width="1" height="1" fill="#7f7f7f"/>
<rect x="76" y="426" width="4" height="1" fill="#f1f1f1"/>
<rect x="76" y="428" width="4" height="1" fill="#f1f1f1"/>
<rect x="76" y="427" width="5" height="1" fill="#000"/>
<rect x="75" y="427" width="1" height="1" fill="#7f7f7f"/>
<rect x="76" y="365" width="4" height="1" fill="#f1f1f1"/>
<rect x="76" y="367" width="4" height="1" fill="#f1f1f1"/>
<rect x="76" y="366" width="5" height="1" fill="#000"/>
<rect x="75" y="366" width="1" height="1" fill="#7f7f7f"/>
<rect x="76" y="303" width="4" height="1" fill="#f1f1f1"/>
<rect x="76" y="305" width="4" height="1" fill="#f1f1f1"/>
<rect x="76" y="304" width="5" height="1" fill="#000"/>
<rect x="75" y="304" width="1" height="1" fill="#7f7f7f"/>
<rect x="76" y="241" width="4" height="1" fill="#f1f1f1"/>
<rect x="76" y="243" width="4" height="1" fill="#f1f1f1"/>
<rect x="76" y="242" width="5" height="1" fill="#000"/>
<rect x="75" y="242" width="1" height="1" fill="#7f7f7f"/>
<rect x="76" y="180" width="4" height="1" fill="#f1f1f1"/>
<rect x="76" y="182" width="4" height="1" fill="#f1f1f1"/>
<rect x="76" y="181" width="5" height="1" fill="#000"/>
<rect x="75" y="181" width="1" height="1" fill="#7f7f7f"/>
<rect x="76" y="118" width="4" height="1" fill="#f1f1f1"/>
<rect x="76" y="120" width="4" height="1" fill="#f1f1f1"/>
<rect x="76" y="119" width="5" height="1" fill="#000"/>
<rect x="75" y="119" width="1" height="1" fill="#7f7f7f"/>
<rect x="76" y="57" width="4" height="1" fill="#f1f1f1"/>
<rect x="76" y="59" width="4" height="1" fill="#f1f1f1"/>
<rect x="76" y="58" width="5" height="1" fill="#000"/>
<rect x="75" y="58" width="1" height="1" fill="#7f7f7f"/>
<rect x="501" y="58" width="1" height="370" fill="#f1f1f1"/>
<rect x="521" y="58" width="1" height="371" fill="#f1f1f1"/>
<rect x="502" y="57" width="19" height="1" fill="#f1f1f1"/>
<rect x="502" y="428" width="20" height="1" fill="#f1f1f1"/>
<rect x="503" y="59" width="17" height="368" fill="url(#cb)"/>
<rect x="502" y="58" width="1" height="370" fill="#000"/>
<rect x="520" y="58" width="1" height="370" fill="#000"/>
<rect x="502" y="58" width="19" height="1" fill="#000"/>
<rect x="502" y="427" width="19" height="1" fill="#000"/>
<rect x="521" y="426" width="4" height="1" fill="#f1f1f1"/>
<rect x="521" y="428" width="4" height="1" fill="#f1f1f1"/>
<rect x="520" y="427" width="5" height="1" fill="#000"/>
<rect x="525" y="427" width="1" height="1" fill="#7f7f7f"/>
<rect x="521" y="385" width="4" height="1" fill="#f1f1f1"/>
<rect x="521" y="387" width="4" height="1" fill="#f1f1f1"/>
<rect x="520" y="386" width="5" height="1" fill="#000"/>
<rect x="525" y="386" width="1" height="1" fill="#7f7f7f"/>
<rect x="521" y="344" width="4" height="1" fill="#f1f1f1"/>
<rect x="521" y="346" width="4" height="1" fill="#f1f1f1"/>
<rect x="520" y="345" width="5" height="1" fill="#000"/>
<rect x="525" y="345" width="1" height="1" fill="#7f7f7f"/>
<rect x="521" y="303" width="4" height="1" fill="#f1f1f1"/>
<rect x="521" y="305" width="4" height="1" fill="#f1f1f1"/>
<rect x="520" y="304" width="5" height="1" fill="#000"/>
<rect x="525" y="304" width="1" height="1" fill="#7f7f7f"/>
<rect x="521" y="262" width="4" height="1" fill="#f1f1f1"/>
<rect x="521" y="264" width="4" height="1" fill="#f1f1f1"/>
<rect x="520" y="263" width="5" height="1" fill="#000"/>
<rect x="525" y="263" width="1" height="1" fill="#7f7f7f"/>
<rect x="521" y="221" width="4" height="1" fill="#f1f1f1"/>
<rect x="521" y="223" width="4" height="1" fill="#f1f1f1"/>
<rect x="520" y="222" width="5" height="1" fill="#000"/>
<rect x="525" y="222" width="1" height="1" fill="#7f7f7f"/>
<rect x="521" y="180" width="4" height="1" fill="#f1f1f1"/>
<rect x="521" y="182" width="4" height="1" fill="#f1f1f1"/>
<rect x="520" y="181" width="5" height="1" fill="#000"/>
<rect x="525" y="181" width="1" height="1" fill="#7f7f7f"/>
<rect x="521" y="139" width="4" height="1" fill="#f1f1f1"/>
<rect x="521" y="141" width="4" height="1" fill="#f1f1f1"/>
<rect x="520" y="140" width="5" height="1" fill="#000"/>
<rect x="525" y="140" width="1" height="1" fill="#7f7f7f"/>
<rect x="521" y="98" width="4" height="1" fill="#f1f1f1"/>
<rect x="521" y="100" width="4" height="1" fill="#f1f1f1"/>
<rect x="520" y="99" width="5" height="1" fill="#000"/>
<rect x="525" y="99" width="1" height="1" fill="#7f7f7f"/>
<rect x="521" y="57" width="4" height="1" fill="#f1f1f1"/>
<rect x="521" y="59" width="4" height="1" fill="#f1f1f1"/>
<rect x="520" y="58" width="5" height="1" fill="#000"/>
<rect x="525" y="58" width="1" height="1" fill="#7f7f7f"/>
</g>
<g style="will-change:opacity" opacity="0.999">
<text x="91.67" y="448.38" font-size="13.889" text-anchor="middle">2</text>
<text x="150.02" y="448.38" font-size="13.889" text-anchor="middle">4</text>
<text x="208.38" y="448.38" font-size="13.889" text-anchor="middle">6</text>
<text x="266.73" y="448.38" font-size="13.889" text-anchor="middle">8</text>
<text x="325.08" y="448.38" font-size="13.889" text-anchor="middle">10</text>
<text x="383.44" y="448.38" font-size="13.889" text-anchor="middle">12</text>
<text x="441.79" y="448.38" font-size="13.889" text-anchor="middle">14</text>
<text x="278.40" y="467.37" font-size="13.889" text-anchor="middle">Frequency[MHz]</text>
<text x="70.28" y="432.88" font-size="13.889" text-anchor="end">0</text>
<text x="70.28" y="371.28" font-size="13.889" text-anchor="end">500</text>
<text x="70.28" y="309.68" font-size="13.889" text-anchor="end">1000</text>
<text x="70.28" y="248.08" font-size="13.889" text-anchor="end">1500</text>
<text x="70.28" y="186.48" font-size="13.889" text-anchor="end">2000</text>
<text x="70.28" y="124.88" font-size="13.889" text-anchor="end">2500</text>
<text x="70.28" y="63.28" font-size="13.889" text-anchor="end">3000</text>
<text x="530.00" y="432.88" font-size="13.889" text-anchor="start">0</text>
<text x="530.00" y="391.81" font-size="13.889" text-anchor="start">5</text>
<text x="530.00" y="350.74" font-size="13.889" text-anchor="start">10</text>
<text x="530.00" y="309.68" font-size="13.889" text-anchor="start">15</text>
<text x="530.00" y="268.61" font-size="13.889" text-anchor="start">20</text>
<text x="530.00" y="227.54" font-size="13.889" text-anchor="start">25</text>
<text x="530.00" y="186.48" font-size="13.889" text-anchor="start">30</text>
<text x="530.00" y="145.41" font-size="13.889" text-anchor="start">35</text>
<text x="530.00" y="104.34" font-size="13.889" text-anchor="start">40</text>
<text x="530.00" y="63.28" font-size="13.889" text-anchor="start">45</text>
<text transform="translate(26.49 243.60) rotate(-90)" font-size="13.889" text-anchor="middle">Virtual Distance[km]</text>
<text transform="translate(562.58 242.90) rotate(-90)" font-size="13.889" text-anchor="middle">Power [dB]</text>
<text x="278.3" y="31.2" font-size="15.3" text-anchor="middle" textLength="383.8" lengthAdjust="spacingAndGlyphs">Ionogram Jicamarca-Cuzco Polarization NE45°</text><text x="278.1" y="48.75" font-size="15.3" text-anchor="middle" textLength="216.8" lengthAdjust="spacingAndGlyphs">01/10/2025-04:28:05 UTC</text>
</g>
</svg></body></html>
